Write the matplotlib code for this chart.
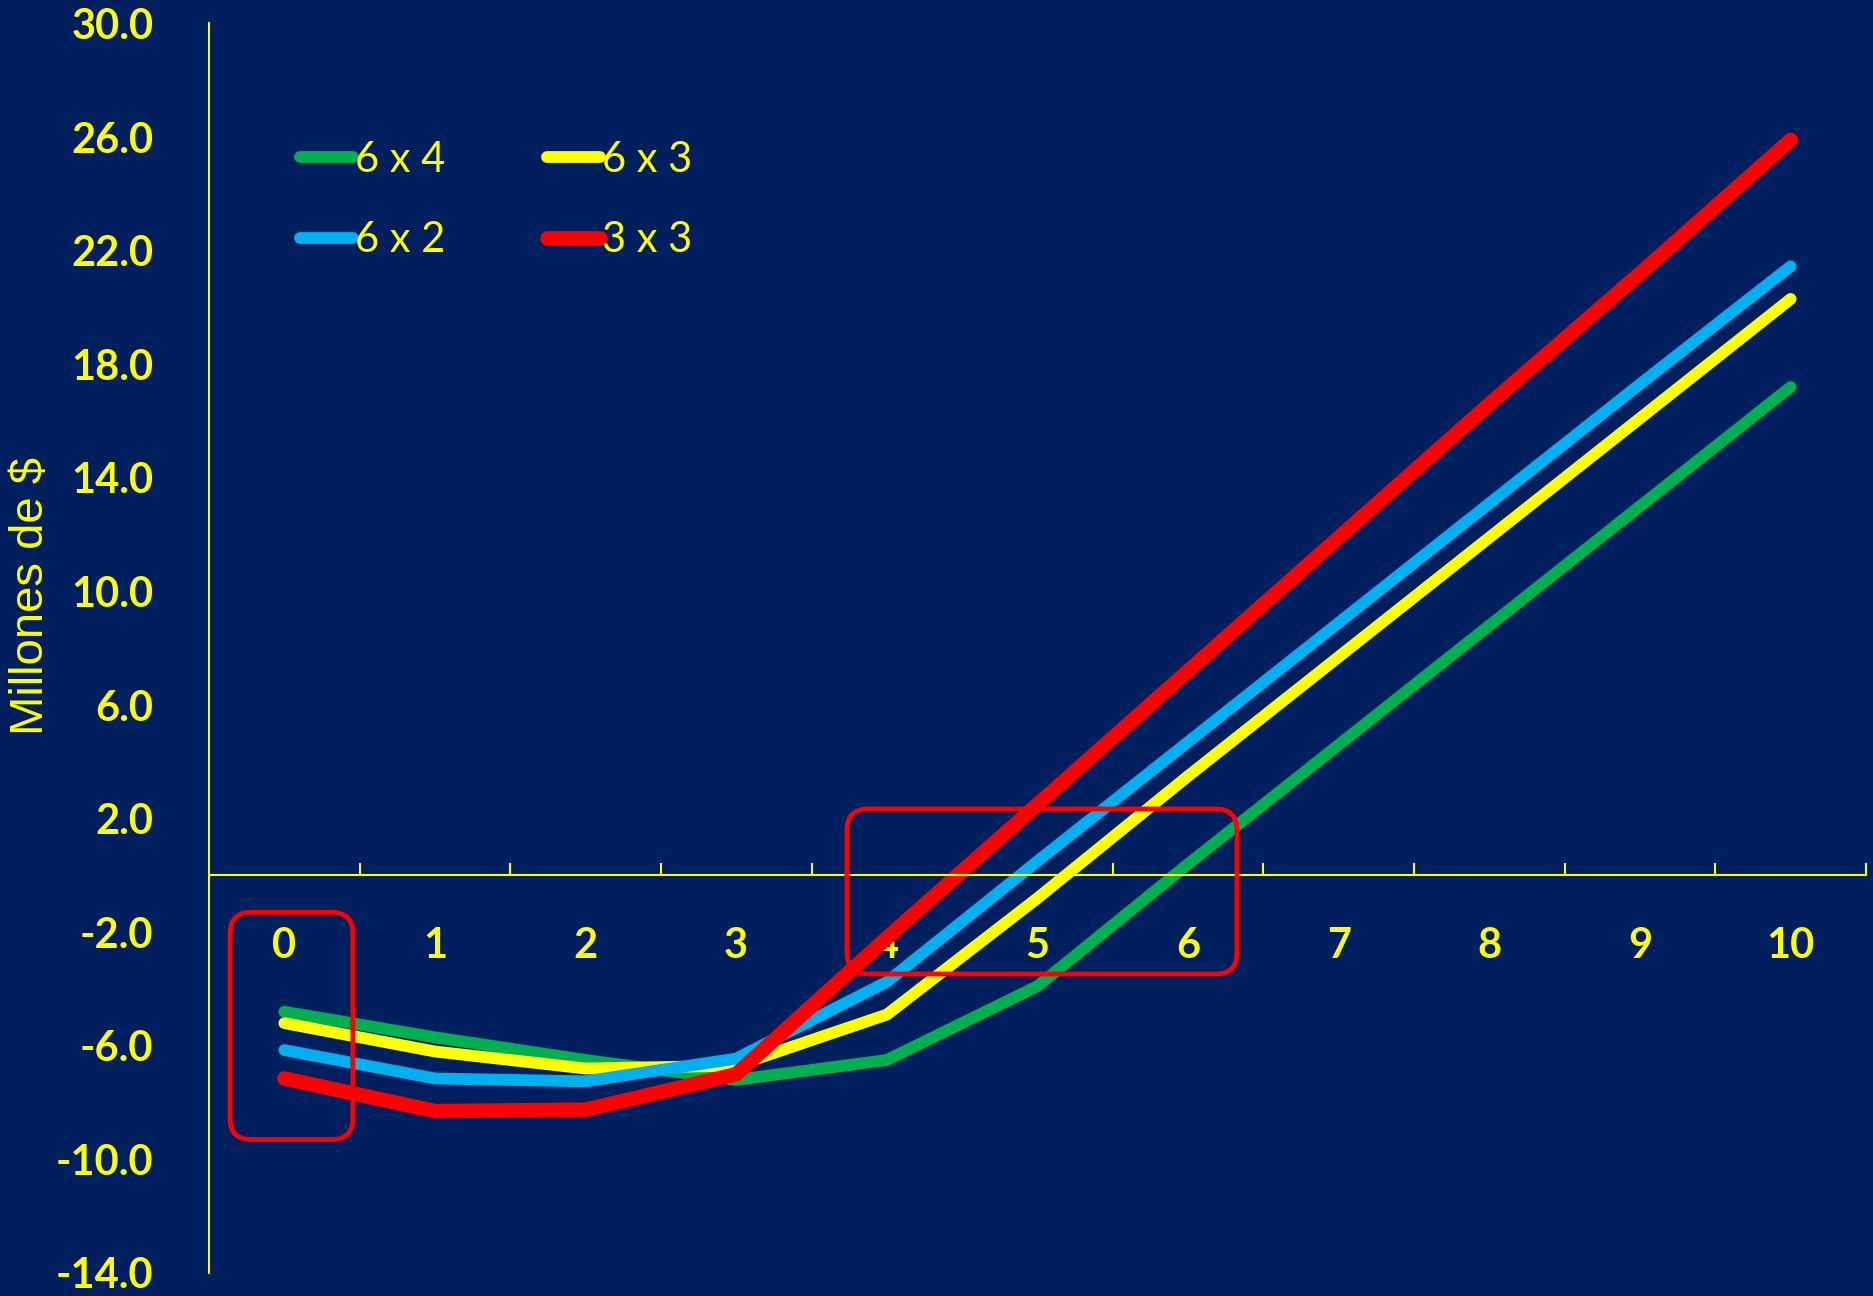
import numpy as np
import matplotlib
matplotlib.use('Agg')
import matplotlib.pyplot as plt
from matplotlib.patches import FancyBboxPatch

# years 0..10, values in millions of $
years = list(range(11))
v_6x4 = [-4.8, -5.7, -6.5, -7.2, -6.5, -3.9, 0.4, 4.6, 8.8, 13.0, 17.2]
v_6x3 = [-5.2, -6.2, -6.8, -6.7, -4.9, -0.8, 3.5, 7.7, 11.9, 16.1, 20.3]
v_6x2 = [-6.15, -7.15, -7.25, -6.45, -3.75, 0.5, 4.7, 8.9, 13.1, 17.3, 21.45]
v_3x3 = [-7.15, -8.3, -8.25, -7.0, -2.2, 2.5, 7.2, 11.9, 16.6, 21.2, 25.9]
y_ticks = np.arange(-14, 31, 4)

bg = '#001F5F'
fg = '#FFFF00'
W, H = 1874, 1296

fig = plt.figure(figsize=(W / 100, H / 100), dpi=100, facecolor=bg)
ax = fig.add_axes([209 / W, 1 - 1273 / H, (1866 - 209) / W, (1273 - 23.5) / H])
ax.set_facecolor(bg)
ax.set_xlim(-0.5, 10.5)
ax.set_ylim(-14, 30)

kw = dict(solid_capstyle='round', solid_joinstyle='miter')
l_g, = ax.plot(years, v_6x4, color='#00B050', lw=8.5, label='6 x 4', **kw)
l_y, = ax.plot(years, v_6x3, color='#FFFF00', lw=8.5, label='6 x 3', **kw)
l_b, = ax.plot(years, v_6x2, color='#00B0F0', lw=8.5, label='6 x 2', **kw)
l_r, = ax.plot(years, v_3x3, color='#FF0000', lw=10.5, label='3 x 3', **kw)

for s in ['top', 'right']:
    ax.spines[s].set_visible(False)
ax.spines['left'].set_color(fg)
ax.spines['left'].set_linewidth(1.5)
ax.spines['bottom'].set_color(fg)
ax.spines['bottom'].set_linewidth(1.5)
ax.spines['bottom'].set_position(('data', 0))

# x axis: ticks between categories, labels at categories
ax.set_xticks(np.arange(0.5, 10.6, 1))
ax.set_xticklabels([])
ax.tick_params(axis='x', which='major', direction='in', length=9, width=1.5, color=fg)
ax.set_xticks(years, minor=True)
ax.set_xticklabels([str(y) for y in years], minor=True, fontsize=30,
                   fontweight='bold', family='Lato', color=fg)
ax.tick_params(axis='x', which='minor', length=0, pad=37)

ax.set_yticks(y_ticks)
ax.set_yticklabels(['%.1f' % v for v in y_ticks], fontsize=30,
                   fontweight='bold', family='Lato', color=fg)
ax.tick_params(axis='y', length=0, pad=40)

fig.text(31 / W, 1 - 596 / H, 'Millones de $', rotation=90, fontsize=34,
         family='Liberation Sans', color=fg, ha='center', va='center')

leg = ax.legend(handles=[l_g, l_b, l_y, l_r], ncol=2, loc='upper left',
                bbox_to_anchor=(0.055, 0.906), frameon=False,
                handlelength=1.27, handletextpad=0.05, columnspacing=2.43,
                labelspacing=1.02, borderpad=0, borderaxespad=0,
                prop={'family': 'Lato', 'size': 30})
for t in leg.get_texts():
    t.set_color(fg)

# red highlight boxes
asp = 150.64 / 28.4
for x0, x1, y0, y1 in [(-0.36, 0.455, -9.3, -1.3), (3.735, 6.324, -3.47, 2.34)]:
    box = FancyBboxPatch((x0, y0), x1 - x0, y1 - y0,
                         boxstyle='round,pad=0,rounding_size=0.14',
                         mutation_aspect=asp, fill=False, ec='#FF0000', lw=3.5,
                         zorder=5, clip_on=False)
    ax.add_patch(box)

fig.savefig('out.png', dpi=100, facecolor=bg)
